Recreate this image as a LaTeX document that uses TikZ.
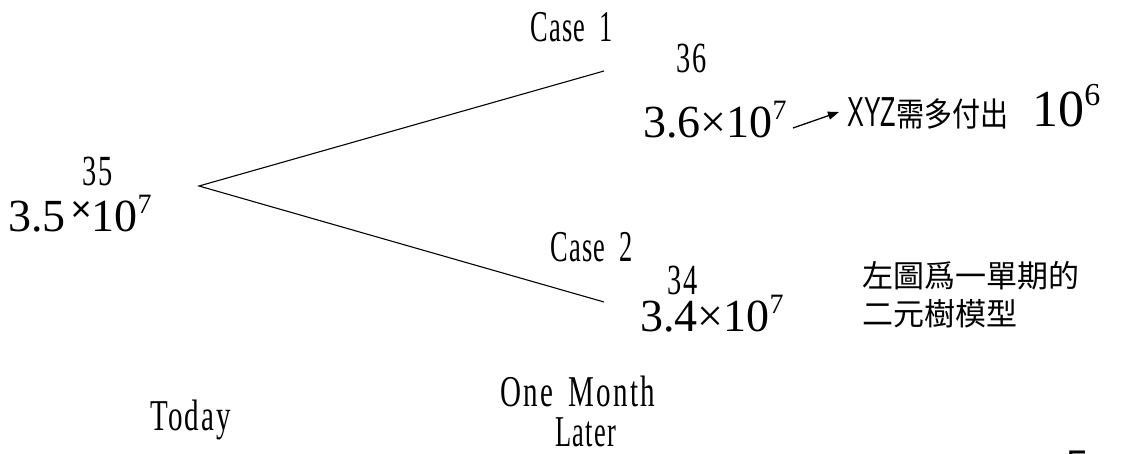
\documentclass[tikz,border=0pt]{standalone}
\usepackage{fontspec}
\usetikzlibrary{arrows.meta}
\setmainfont{Liberation Serif}
\newfontfamily\ming[FakeStretch=0.66,LetterSpace=5]{Liberation Serif}
\newfontfamily\mingc[FakeStretch=0.6,LetterSpace=3]{Liberation Serif}
\newfontfamily\sansf[FakeStretch=0.6]{Liberation Sans}
\newfontfamily\sansn{Liberation Sans}
\newfontfamily\cjk[FakeStretch=0.85]{Noto Sans CJK TC}
\newfontfamily\cjkb{Noto Sans CJK TC}
\newcommand{\fs}[1]{\fontsize{#1}{#1}\selectfont}
\newcommand{\tenpow}[1]{10\raisebox{18pt}{\fs{28}#1}}
\begin{document}
\begin{tikzpicture}[x=1pt,y=-1pt,
  lbl/.style={inner sep=0pt,anchor=base west},
  branch/.style={line width=1.1pt},
  ]
\useasboundingbox (0,0) rectangle (1122,454);
\clip (0,0) rectangle (1122,454);
% tree
\coordinate (root) at (199,186);
\coordinate (up) at (604,71);
\coordinate (down) at (604,302);
\draw[branch] (up) -- (root) -- (down);
% left node
\node[lbl] (v35) at (82,186) {\ming\fs{43}35};
\node[lbl] (n35) at (8,232) {\fs{46}3.5\hspace{5pt}\raisebox{10pt}{\sansn\fs{36}×}\tenpow{7}};
% case 1
\node[lbl] (case1) at (530,42) {\mingc\fs{44}Case\hspace{14pt}1};
\node[lbl] (v36) at (676,73) {\ming\fs{43}36};
\node[lbl] (n36) at (643,138) {\fs{46}3.6×\tenpow{7}};
\coordinate (a1) at (793,128);
\coordinate (a2) at (839,112);
\draw[line width=1.3pt,-{Triangle[length=11pt,width=8pt]}] (a1) -- (a2);
\node[lbl] (xyz) at (847,127) {\sansf\fs{42}XYZ\cjk\fs{33}需多付出\hspace{24pt}\rmfamily\fs{52}10\raisebox{21pt}{\fs{32}6}};
% case 2
\node[lbl] (case2) at (550,262) {\mingc\fs{44}Case\hspace{14pt}2};
\node[lbl] (v34) at (667,295) {\ming\fs{43}34};
\node[lbl] (n34) at (640,332) {\fs{46}3.4×\tenpow{7}};
% note
\node[lbl] (note1) at (862,288) {\cjkb\fs{31}左圖爲一單期的};
\node[lbl] (note2) at (862,326) {\cjkb\fs{31}二元樹模型};
% axis labels
\node[lbl] (today) at (150,430) {\ming\fs{44}Today};
\node[lbl] (month) at (500,406) {\ming\fs{44}One\hspace{16pt}Month};
\node[lbl] (later) at (555,446) {\mingc\fs{44}Later};
\node[lbl] (page) at (1066,478) {\sansn\fs{40}5};
\end{tikzpicture}
\end{document}
